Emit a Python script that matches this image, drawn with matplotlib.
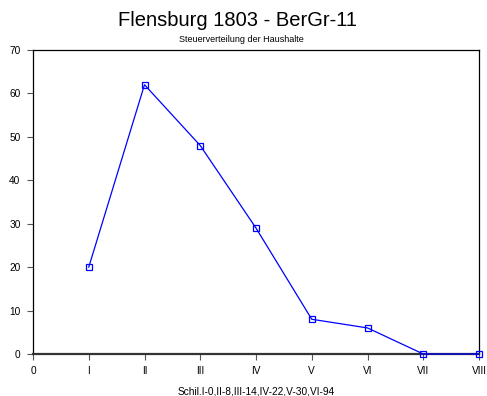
import matplotlib
matplotlib.use('Agg')
import matplotlib.pyplot as plt

plt.rcParams['font.family'] = ['Liberation Sans', 'DejaVu Sans']

# data
x_pos = [1, 2, 3, 4, 5, 6, 7, 8]
values = [20, 62, 48, 29, 8, 6, 0, 0]
tick_pos = [0, 1, 2, 3, 4, 5, 6, 7, 8]
tick_labels = ['0', 'I', 'II', 'III', 'IV', 'V', 'VI', 'VII', 'VIII']
y_ticks = [0, 10, 20, 30, 40, 50, 60, 70]

fig = plt.figure(figsize=(4.87, 3.96), dpi=100)
ax = fig.add_axes([33 / 487, 42 / 396, 446 / 487, 304 / 396])

ax.plot(x_pos, values, color='#0000ff', linewidth=0.9,
        marker='s', markersize=4.5, markerfacecolor='none',
        markeredgecolor='#0000ff', markeredgewidth=0.9, clip_on=False, zorder=3)

ax.set_xlim(0, 8)
ax.set_ylim(0, 70)
ax.set_xticks(tick_pos)
ax.set_xticklabels(tick_labels)
ax.set_yticks(y_ticks)
ax.tick_params(axis='both', labelsize=7.3, length=4, width=0.8, color='#555555', pad=5)

for s in ax.spines.values():
    s.set_linewidth(0.9)
ax.spines['bottom'].set_linewidth(1.6)
ax.spines['bottom'].set_color('#333333')

ax.set_xlabel('Schil.I-0,II-8,III-14,IV-22,V-30,VI-94', fontsize=7.3, labelpad=7)

fig.text(238 / 487, 1 - 21 / 396, 'Flensburg 1803 - BerGr-11', fontsize=14.5,
         ha='center', va='center')
fig.text(241 / 487, 1 - 40 / 396, 'Steuerverteilung der Haushalte', fontsize=6.5,
         ha='center', va='center')

fig.savefig('out.png', dpi=100)
